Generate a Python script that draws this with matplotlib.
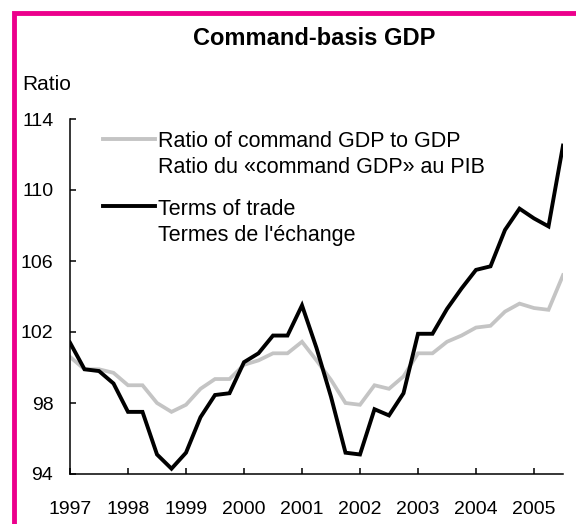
import matplotlib
matplotlib.use("Agg")
import matplotlib.pyplot as plt
from matplotlib.lines import Line2D
from matplotlib.patches import Rectangle

plt.rcParams['font.family'] = ['Liberation Sans', 'DejaVu Sans']

# quarterly data, 1997 Q1 .. 2005 Q3
start_year = 1997
ratio = [100.6, 99.9, 99.9, 99.7, 99.0, 99.0, 98.0, 97.5, 97.9, 98.8,
         99.35, 99.35, 100.15, 100.4, 100.8, 100.8, 101.45, 100.4, 99.3, 98.0,
         97.9, 99.0, 98.8, 99.5, 100.8, 100.8, 101.45, 101.8, 102.25, 102.35,
         103.15, 103.6, 103.35, 103.25, 105.2]
terms = [101.4, 99.9, 99.8, 99.1, 97.5, 97.5, 95.1, 94.3, 95.2, 97.2,
         98.45, 98.55, 100.3, 100.8, 101.8, 101.8, 103.5, 101.1, 98.35, 95.2,
         95.1, 97.65, 97.3, 98.55, 101.9, 101.9, 103.3, 104.45, 105.5, 105.7,
         107.75, 108.95, 108.4, 107.95, 112.5]
years = list(range(1997, 2006))
y_ticks = [94, 98, 102, 106, 110, 114]

x = [start_year + i / 4 for i in range(len(terms))]

W, H = 576, 524
fig = plt.figure(figsize=(W / 100, H / 100), dpi=100)
ax = fig.add_axes([70 / W, 1 - 474 / H, (563 - 70) / W, (474 - 119) / H])

grey = '#c4c4c4'
ax.plot(x, ratio, color=grey, lw=2.7, solid_joinstyle='miter')
ax.plot(x, terms, color='black', lw=2.8, solid_joinstyle='miter')

ax.set_xlim(1997, 2005.5)
ax.set_ylim(94, 114)
ax.set_xticks(years)
ax.set_xticklabels([str(y) for y in years])
ax.set_yticks(y_ticks)
ax.tick_params(direction='in', length=4.5, width=1.1, labelsize=14)
ax.tick_params(axis='y', pad=12)
ax.tick_params(axis='x', pad=19.5)
for s in ('top', 'right'):
    ax.spines[s].set_visible(False)
for s in ('left', 'bottom'):
    ax.spines[s].set_linewidth(1.1)

# legend drawn by hand so the handle sits on the first line
def fx(px):
    return px / W

def fy(py):
    return 1 - py / H

for (yy, base, col, l1, l2) in [(139, 147, grey, 'Ratio of command GDP to GDP',
                                 'Ratio du «command GDP» au PIB'),
                                (206, 215, 'black', 'Terms of trade',
                                 "Termes de l'échange")]:
    fig.add_artist(Line2D([fx(103), fx(155)], [fy(yy), fy(yy)],
                          color=col, lw=2.8))
    fig.text(fx(158), fy(base), l1, fontsize=15.5, va='baseline', ha='left')
    fig.text(fx(158), fy(base + 26), l2, fontsize=15.5, va='baseline', ha='left')

fig.text(fx(314), fy(45), 'Command-basis GDP', fontsize=17,
         fontweight='bold', ha='center', va='baseline')
fig.text(fx(22), fy(90), 'Ratio', fontsize=15, ha='left', va='baseline')

# pink frame
fig.add_artist(Rectangle((fx(14), fy(600)), 1.2, fy(12.5) - fy(600),
                         transform=fig.transFigure, fill=False,
                         edgecolor='#ec008c', lw=3.5, clip_on=True))

fig.savefig('out.png', dpi=100)
